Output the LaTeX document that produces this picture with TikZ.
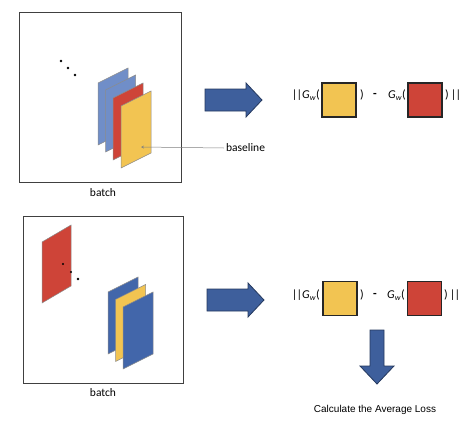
\documentclass[tikz,border=0pt]{standalone}
\usepackage{fontspec}
\setmainfont{Carlito}
\newfontfamily\arialfont{Liberation Sans}
\usetikzlibrary{arrows.meta}

\definecolor{paleblue}{RGB}{112,142,200}
\definecolor{deepblue}{RGB}{66,102,170}
\definecolor{sheetred}{RGB}{206,68,56}
\definecolor{sheetyellow}{RGB}{242,196,82}
\definecolor{arrowblue}{RGB}{62,95,156}

% one slanted sheet, top-left corner at (#1,#2)
\newcommand{\sheet}[3]{%
  \filldraw[sheetline, fill=#3] (#1,#2) -- ++(30,-15) -- ++(0,62) -- ++(-30,15) -- cycle;}
% fat arrow pointing right, tail at x=#1, centre line y=#2
\newcommand{\fatarrow}[2]{%
  \filldraw[bigarrow] ({#1},{#2-11}) -- ++(41,0) -- ++(0,-6) -- ++(16,17)
    -- ++(-16,17) -- ++(0,-6) -- ++(-41,0) -- cycle;}
\newcommand{\dbar}{|\kern-0.8pt|}

\tikzset{
  sheetline/.style={draw=black!45, line width=0.5pt},
  bigarrow/.style={fill=arrowblue, draw=arrowblue!60!black, line width=0.8pt},
  batchbox/.style={draw=black!75, line width=0.9pt, minimum width=162pt, minimum height=170pt, inner sep=0pt},
  square/.style={draw=black!85, line width=1.1pt, minimum size=34pt, inner sep=0pt},
  formula/.style={inner sep=0pt, font=\fontsize{12}{14}\selectfont},
  annot/.style={inner sep=0pt, font=\fontsize{11.5}{13}\selectfont},
}

\begin{document}
\begin{tikzpicture}[x=1pt, y=-1pt]
    \useasboundingbox (0,0) rectangle (464,440);

    % top batch
    \node[batchbox] (topbox) at (100,97) {};
    \node[annot] (toplabel) at (103,193) {batch};
    \fill (61,61) circle (1.3);
    \fill (68,68) circle (1.3);
    \fill (75,75) circle (1.3);
    \sheet{98}{83}{paleblue}
    \sheet{105.5}{90}{paleblue}
    \sheet{113}{98}{sheetred}
    \sheet{121}{106}{sheetyellow}

    \coordinate (basetip) at (141,147);
    \node[annot, anchor=west] (baseline) at (226,148) {baseline};
    \draw[black!50, line width=0.5pt, -{Stealth[open, length=3pt, width=3pt]}] (baseline.west) ++(-2,0) -- (basetip);

    \fatarrow{205}{100}

    \node[formula, anchor=east] (topnorm) at (320,95) {\dbar\textit{G}\textsubscript{\textit{w}}(};
    \node[square, fill=sheetyellow] (topyellow) at (339,100) {};
    \node[formula, anchor=west] (topclose) at (360,95) {)};
    \node[formula] (topminus) at (375,95) {\textbf{-}};
    \node[formula, anchor=east] (topg) at (406,95) {\textit{G}\textsubscript{\textit{w}}(};
    \node[square, fill=sheetred] (topred) at (425,100) {};
    \node[formula, anchor=west] (topend) at (445,95) {)\,\dbar};

    % bottom batch
    \node[batchbox, minimum width=160pt, minimum height=167pt] (botbox) at (103,299.5) {};
    \node[annot] (botlabel) at (103,393) {batch};
    \filldraw[sheetline, fill=sheetred] (42,242) -- (71,225) -- (71,286) -- (42,303) -- cycle;
    \fill (63,264) circle (1.1);
    \fill (71,272) circle (1.1);
    \fill (78,279) circle (1.3);
    \sheet{108}{292}{deepblue}
    \sheet{115.5}{299.5}{sheetyellow}
    \sheet{123}{307}{deepblue}

    \fatarrow{207}{300}

    \node[formula, anchor=east] (botnorm) at (320,295) {\dbar\textit{G}\textsubscript{\textit{w}}(};
    \node[square, fill=sheetyellow] (botyellow) at (340,298.5) {};
    \node[formula, anchor=west] (botclose) at (360,295) {)};
    \node[formula] (botminus) at (375,295) {\textbf{-}};
    \node[formula, anchor=east] (botg) at (405,295) {\textit{G}\textsubscript{\textit{w}}(};
    \node[square, fill=sheetred] (botred) at (424.5,298.5) {};
    \node[formula, anchor=west] (botend) at (444,295) {)\,\dbar};

    \filldraw[bigarrow] (370,330) -- (384,330) -- (384,366) -- (394,366) -- (377,384) -- (360,366) -- (370,366) -- cycle;
    \node[inner sep=0pt, font=\arialfont\fontsize{10}{12}\selectfont] (avgloss) at (375,410) {Calculate the Average Loss};
\end{tikzpicture}
\end{document}
